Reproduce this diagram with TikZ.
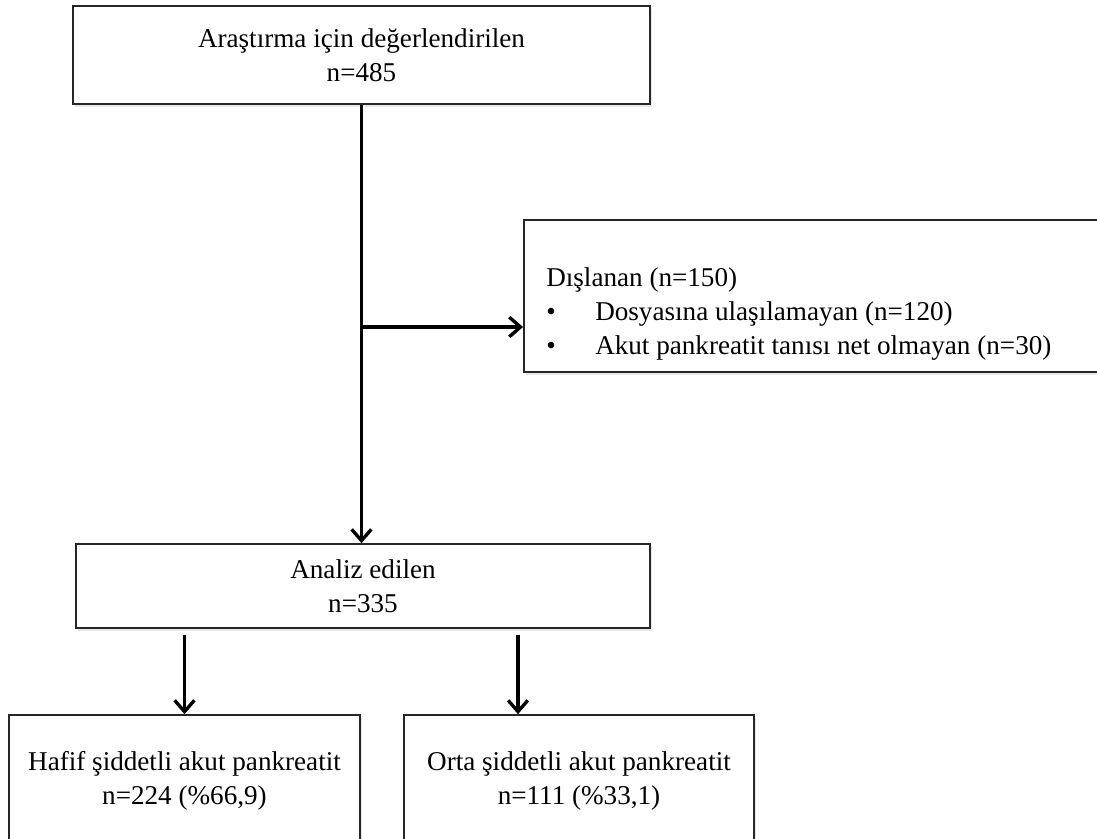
\documentclass[tikz,border=0pt]{standalone}
\usepackage{fontspec}
\setmainfont{Liberation Serif}
\usepackage{tikz}
\usetikzlibrary{positioning,arrows.meta,calc,shadows}

\begin{document}
\begin{tikzpicture}[>={Straight Barb[length=8pt,width=14pt,line width=2.4pt]},
	flowbox/.style={draw=black!85,line width=1.2pt,fill=white,align=center,
		font=\fontsize{19.3}{24.5}\selectfont,
		drop shadow={opacity=0.18,shadow xshift=0.05cm,shadow yshift=-0.07cm}},
	arr/.style={->,line width=2.6pt}]
	
	\useasboundingbox (0,0) rectangle (27.425,-20.95);
	
	% Boxes
	\node[flowbox,minimum width=14.425cm,minimum height=2.45cm] (top) at (9.0375,-1.375)
	{Araştırma için değerlendirilen\\n=485};
	
	\node[flowbox,minimum width=14.525cm,minimum height=3.8cm] (excl) at (20.36,-7.4) {};
	\node[anchor=north west,align=left,inner sep=0pt,
	font=\fontsize{19.3}{24.3}\selectfont] (exclText) at (13.65,-6.68)
	{Dışlanan (n=150)\\
		\makebox[1.225cm][l]{•}Dosyasına ulaşılamayan (n=120)\\
		\makebox[1.225cm][l]{•}Akut pankreatit tanısı net olmayan (n=30)};
	
	\node[flowbox,minimum width=14.35cm,minimum height=2.1cm] (analiz) at (9.075,-14.65)
	{Analiz edilen\\n=335};
	
	\node[flowbox,minimum width=8.775cm,minimum height=3.3cm] (hafif) at (4.6125,-19.525)
	{Hafif şiddetli akut pankreatit\\n=224 (\%66,9)};
	
	\node[flowbox,minimum width=8.75cm,minimum height=3.3cm] (orta) at (14.475,-19.525)
	{Orta şiddetli akut pankreatit\\n=111 (\%33,1)};
	
	% Arrows
	\draw[arr] (top.south) -- (top.south |- analiz.north);
	
	\coordinate (split) at (top.south |- 0,-8.175);
	\draw[arr] (split) -- (split -| excl.west);
	
	\coordinate (ortaIn) at (12.95,0 |- orta.north);
	\draw[arr] ([yshift=-0.15cm]analiz.south -| hafif.north) -- (hafif.north);
	\draw[arr] ([yshift=-0.15cm]analiz.south -| ortaIn) -- (ortaIn);
	
\end{tikzpicture}
\end{document}
